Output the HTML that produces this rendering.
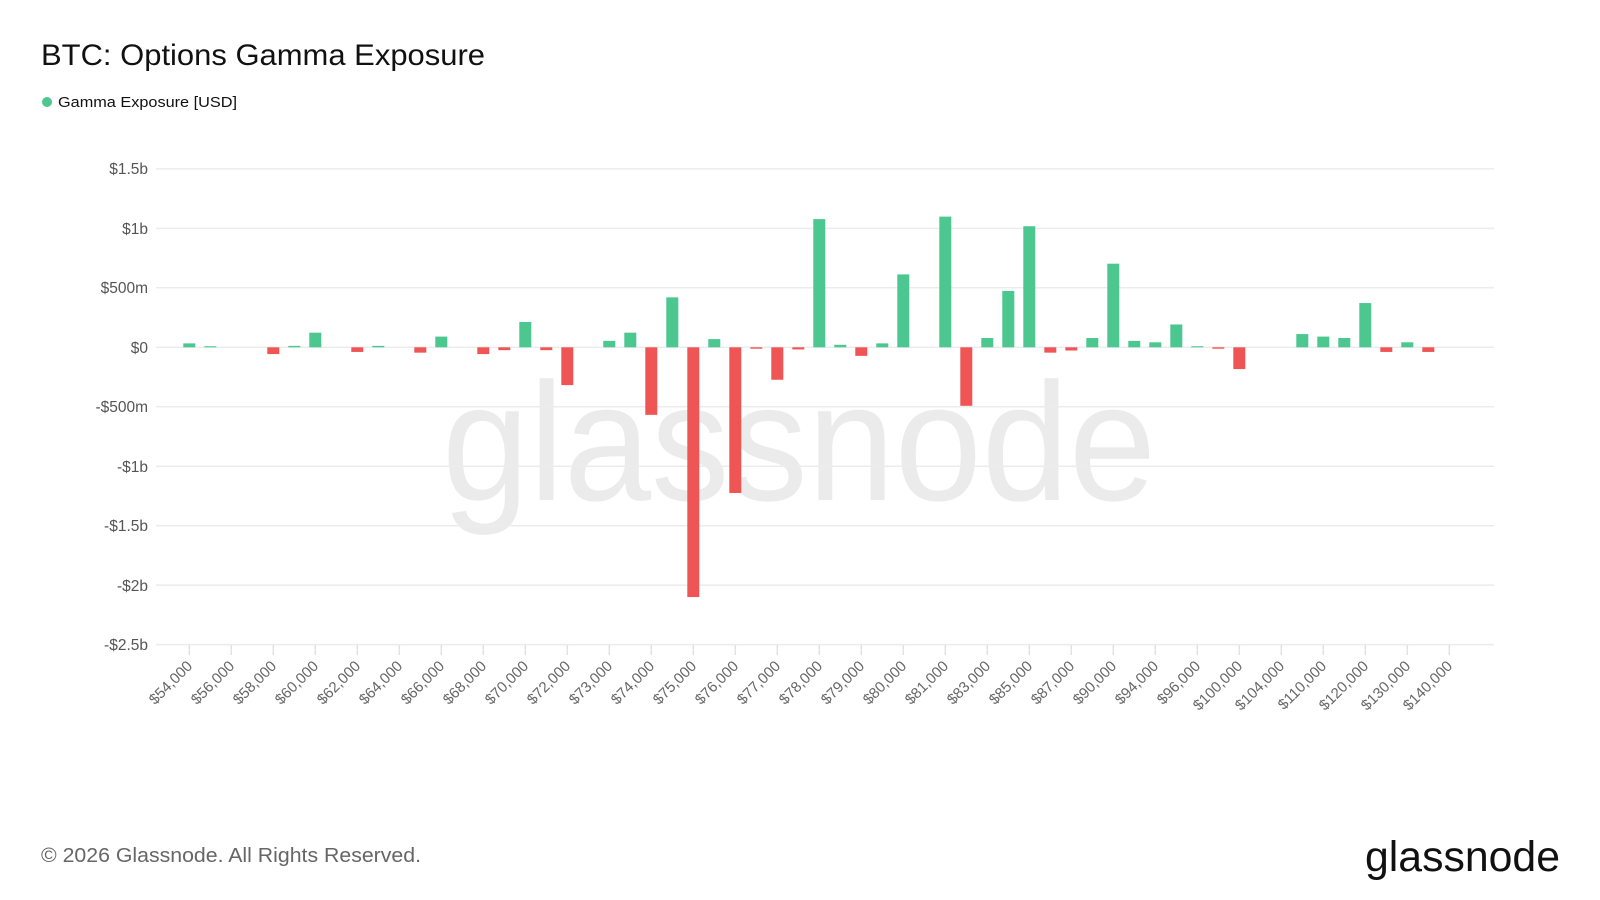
<!DOCTYPE html>
<html><head><meta charset="utf-8"><style>
html,body{margin:0;padding:0;background:#fff;}
svg{display:block;font-family:"Liberation Sans",sans-serif;}
</style></head><body>
<svg width="1600" height="900" viewBox="0 0 1600 900" xmlns="http://www.w3.org/2000/svg">
<text x="41" y="65" font-size="30" fill="#111" textLength="444" lengthAdjust="spacingAndGlyphs">BTC: Options Gamma Exposure</text>
<circle cx="47" cy="102" r="5" fill="#4bc78f"/>
<text x="58" y="107" font-size="15" fill="#111" textLength="179" lengthAdjust="spacingAndGlyphs">Gamma Exposure [USD]</text>
<text x="442" y="500" font-size="168" fill="#ebebeb" textLength="714" lengthAdjust="spacingAndGlyphs">glassnode</text>
<g stroke="#ececec" stroke-width="1.5">
<line x1="156" x2="1494" y1="168.9" y2="168.9"/><line x1="156" x2="1494" y1="228.4" y2="228.4"/>
<line x1="156" x2="1494" y1="287.8" y2="287.8"/><line x1="156" x2="1494" y1="347.3" y2="347.3"/>
<line x1="156" x2="1494" y1="406.8" y2="406.8"/><line x1="156" x2="1494" y1="466.2" y2="466.2"/>
<line x1="156" x2="1494" y1="525.7" y2="525.7"/><line x1="156" x2="1494" y1="585.1" y2="585.1"/>
<line x1="156" x2="1494" y1="644.6" y2="644.6"/>
</g>
<g font-size="15.5" fill="#555" text-anchor="end">
<text x="148" y="174">$1.5b</text><text x="148" y="234">$1b</text><text x="148" y="293">$500m</text>
<text x="148" y="353">$0</text><text x="148" y="412">-$500m</text><text x="148" y="472">-$1b</text>
<text x="148" y="531">-$1.5b</text><text x="148" y="591">-$2b</text><text x="148" y="650">-$2.5b</text>
</g>
<g id="ticks" stroke="#e2e2e2" stroke-width="1.5"></g>
<g id="labels" font-size="15" fill="#666"></g>
<g id="bars"></g>
<text x="41" y="862" font-size="20" fill="#666" textLength="380" lengthAdjust="spacingAndGlyphs">© 2026 Glassnode. All Rights Reserved.</text>
<text x="1566" y="871" font-size="43" fill="#111" text-anchor="end" textLength="195" lengthAdjust="spacingAndGlyphs" transform="translate(-6,0)">glassnode</text>
<script>
var ns="http://www.w3.org/2000/svg";
var labs=["54,000","56,000","58,000","60,000","62,000","64,000","66,000","68,000","70,000","72,000","73,000","74,000","75,000","76,000","77,000","78,000","79,000","80,000","81,000","83,000","85,000","87,000","90,000","94,000","96,000","100,000","104,000","110,000","120,000","130,000","140,000"];
var x0=189.3,dx=42.0;
labs.forEach(function(l,i){var x=x0+dx*i;
var t=document.createElementNS(ns,"line");t.setAttribute("x1",x);t.setAttribute("x2",x);t.setAttribute("y1",645);t.setAttribute("y2",655);document.getElementById("ticks").appendChild(t);
var s=document.createElementNS(ns,"text");s.setAttribute("x",x+4);s.setAttribute("y",667);s.setAttribute("text-anchor","end");s.setAttribute("transform","rotate(-45 "+(x+4)+" 667)");s.textContent="$"+l;document.getElementById("labels").appendChild(s);});
var v={0:33,1:9,4:-57,5:12,6:123,8:-39,9:12,11:-45,12:90,14:-57,15:-24,16:213,17:-24,18:-318,20:54,21:123,22:-568,23:420,24:-2100,25:69,26:-1225,27:-12,28:-273,29:-18,30:1078,31:21,32:-72,33:33,34:613,36:1099,37:-492,38:78,39:474,40:1018,41:-45,42:-27,43:78,44:703,45:54,46:42,47:192,48:9,49:-12,50:-183,53:111,54:90,55:78,56:372,57:-39,58:42,59:-39};
var zero=347.3,k=59.46/500;
for(var i in v){var val=v[i],h=Math.abs(val)*k,x=x0+21*i-6;
var r=document.createElementNS(ns,"rect");r.setAttribute("x",x);r.setAttribute("width",12);
r.setAttribute("y",val>0?zero-h:zero);r.setAttribute("height",h);r.setAttribute("fill",val>0?"#4bc78f":"#f05556");
document.getElementById("bars").appendChild(r);}
</script>
</svg>
</body></html>
